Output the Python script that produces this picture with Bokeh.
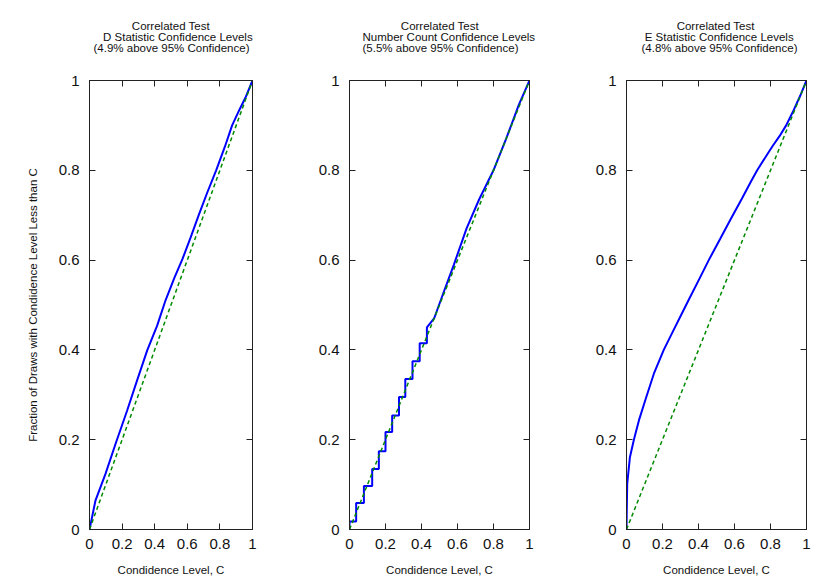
from bokeh.plotting import figure
from bokeh.models import LinearAxis, FixedTicker, Range1d, Title
from bokeh.layouts import row
from bokeh.embed import file_html
from bokeh.resources import INLINE

# ---- data ----
ticks = [0, 0.2, 0.4, 0.6, 0.8, 1]
tick_labels = ["0", "0.2", "0.4", "0.6", "0.8", "1"]

diag_conf = [0, 1]
diag_frac = [0, 1]

d_conf = [0, 0.037, 0.098, 0.16, 0.231, 0.292, 0.354, 0.415, 0.466, 0.52, 0.57,
          0.62, 0.67, 0.722, 0.777, 0.83, 0.875, 0.92, 0.957, 1]
d_frac = [0, 0.065, 0.124, 0.191, 0.265, 0.332, 0.399, 0.454, 0.51, 0.56, 0.602,
          0.65, 0.7, 0.75, 0.8, 0.852, 0.9, 0.935, 0.962, 1]

n_conf = [0, 0, 0.037, 0.037, 0.08, 0.08, 0.126, 0.126, 0.163, 0.163, 0.2, 0.2,
          0.237, 0.237, 0.275, 0.275, 0.31, 0.31, 0.35, 0.35, 0.39, 0.39, 0.43, 0.43,
          0.47, 0.52, 0.58, 0.65, 0.72, 0.8, 0.87, 0.94, 1]
n_frac = [0, 0.018, 0.018, 0.059, 0.059, 0.097, 0.097, 0.135, 0.135, 0.174, 0.174, 0.217,
          0.217, 0.254, 0.254, 0.295, 0.295, 0.335, 0.335, 0.375, 0.375, 0.415, 0.415, 0.45,
          0.47, 0.525, 0.59, 0.67, 0.735, 0.8, 0.87, 0.945, 1]

e_conf = [0, 0.001, 0.004, 0.019, 0.041, 0.069, 0.106, 0.152, 0.207, 0.26, 0.3, 0.35,
          0.402, 0.457, 0.52, 0.58, 0.64, 0.69, 0.726, 0.77, 0.81, 0.85, 0.887, 0.93,
          0.965, 1]
e_frac = [0, 0.03, 0.102, 0.161, 0.2, 0.243, 0.29, 0.347, 0.4, 0.443, 0.475, 0.515,
          0.556, 0.6, 0.647, 0.692, 0.736, 0.774, 0.8, 0.828, 0.853, 0.876, 0.9, 0.935,
          0.966, 1]

titles = [
    ["Correlated Test", "D Statistic Confidence Levels", "(4.9% above 95% Confidence)"],
    ["Correlated Test", "Number Count Confidence Levels", "(5.5% above 95% Confidence)"],
    ["Correlated Test", "E Statistic Confidence Levels", "(4.8% above 95% Confidence)"],
]
# indentation of each title line (in non-breaking spaces) and left offset of the block
title_indents = [[12, 3, 0], [12, 0, 0], [11, 1, 0]]
title_offsets = [4, 13, 15]

FONT = "Liberation Sans"
FH = 449
TOP = 80
BOTTOM = 52
INK = "#111111"
NBSP = "\u00a0"


def style_axis(ax, show_labels=True):
    ax.ticker = FixedTicker(ticks=ticks)
    ax.major_label_overrides = {t: l for t, l in zip(ticks, tick_labels)}
    ax.minor_tick_line_color = None
    ax.major_tick_in = 6
    ax.major_tick_out = 0
    ax.major_tick_line_color = "#222222"
    ax.axis_line_color = "#222222"
    ax.axis_line_width = 1
    ax.major_label_text_font = FONT
    ax.major_label_text_color = INK
    if show_labels:
        ax.major_label_text_font_size = "15px"
    else:
        ax.major_label_text_font_size = "0px"
        ax.major_label_standoff = 0


def make_panel(conf, frac, tl, indents, off, left, fw, right, ylabel=None):
    p = figure(frame_width=fw, frame_height=FH, min_border_left=left, min_border_right=right,
               min_border_top=TOP, min_border_bottom=BOTTOM,
               x_range=Range1d(0, 1), y_range=Range1d(0, 1),
               output_backend="svg", toolbar_location=None)
    p.grid.visible = False
    p.outline_line_color = "#222222"
    p.background_fill_color = "white"
    p.border_fill_color = "white"

    xa = p.xaxis[0]
    ya = p.yaxis[0]
    style_axis(xa)
    style_axis(ya)
    xa.major_label_standoff = 9
    ya.major_label_standoff = 10
    xa.axis_label = "Condidence Level, C"
    xa.axis_label_text_font = FONT
    xa.axis_label_text_font_size = "11.5px"
    xa.axis_label_text_font_style = "normal"
    xa.axis_label_text_color = INK
    xa.axis_label_standoff = 12
    if ylabel:
        ya.axis_label = ylabel
        ya.axis_label_text_font = FONT
        ya.axis_label_text_font_size = "11.5px"
        ya.axis_label_text_font_style = "normal"
        ya.axis_label_text_color = INK
        ya.axis_label_standoff = 17

    top_ax = LinearAxis()
    style_axis(top_ax, show_labels=False)
    p.add_layout(top_ax, "above")
    right_ax = LinearAxis()
    style_axis(right_ax, show_labels=False)
    p.add_layout(right_ax, "right")

    p.line(conf, frac, line_color="#0000ff", line_width=2)
    p.line(diag_conf, diag_frac, line_color="#008a00", line_width=1.5, line_dash="4 3")

    # spacer between the frame and the title block
    p.add_layout(Title(text=" ", standoff=0, text_font_size="21.5px", text_line_height=1.0), "above")
    text = "\n".join(NBSP * n + t for t, n in zip(tl, indents))
    p.add_layout(Title(text=text, align="left", offset=off, standoff=0,
                       text_font=FONT, text_font_size="11.5px",
                       text_font_style="normal", text_color=INK,
                       text_line_height=0.95), "above")
    return p


p1 = make_panel(d_conf, d_frac, titles[0], title_indents[0], title_offsets[0], 89, 163, 48,
                ylabel="Fraction of Draws with Condidence Level Less than C")
p2 = make_panel(n_conf, n_frac, titles[1], title_indents[1], title_offsets[1], 49, 180, 49)
p3 = make_panel(e_conf, e_frac, titles[2], title_indents[2], title_offsets[2], 48, 180, 24)

layout = row(p1, p2, p3, spacing=0)
open("out.html", "w").write(file_html(layout, INLINE))
